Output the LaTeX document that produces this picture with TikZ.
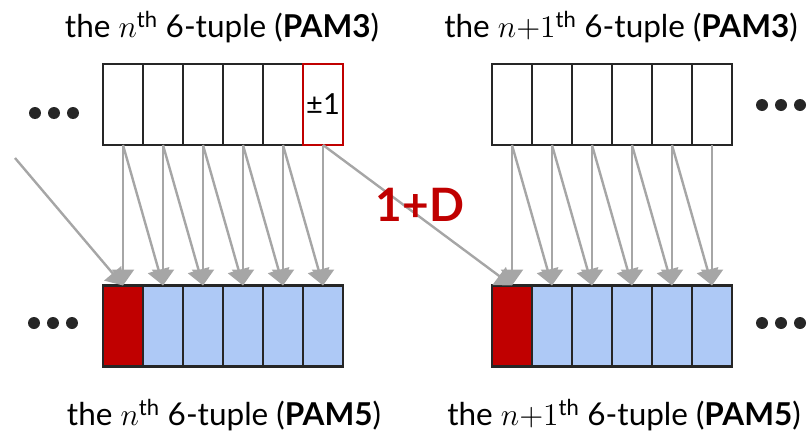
\documentclass[tikz,border=0pt]{standalone}
\usepackage{fontspec}
\setmainfont{Lato}
\DeclareFontShape{OML}{cmm}{m}{it}{<-> cmmi12}{}
\DeclareFontShape{OT1}{cmr}{m}{n}{<-> cmr12}{}
\usepackage{tikz}
\usetikzlibrary{
    arrows.meta,
    positioning
}
\definecolor{pamred}{RGB}{192,0,0}
\definecolor{pamblue}{RGB}{174,201,246}
\definecolor{linkgray}{RGB}{166,166,166}

\begin{document}
\begin{tikzpicture}[
    x=1pt, y=-1pt,
    cell/.style={
        rectangle,
        draw=black!85,
        line width=2.4pt,
        minimum width=40pt,
        minimum height=81pt,
        inner sep=0pt,
        outer sep=0pt,
        font=\fontsize{29}{34}\selectfont
    },
    pamcell/.style={cell, fill=pamblue},
    hotcell/.style={cell, fill=pamred},
    caption/.style={anchor=base, font=\fontsize{31.5}{36}\selectfont},
    link/.style={draw=linkgray, line width=2.4pt, -{Triangle[width=22pt,length=16pt]}}
]
\useasboundingbox (0,0) rectangle (807,434);

% Titles
\node[caption] (ta) at (222,37) {the $n$\textsuperscript{th} 6-tuple (\textbf{PAM3})};
\node[caption] (tb) at (621,37) {the $n{+}1$\textsuperscript{th} 6-tuple (\textbf{PAM3})};
\node[caption] (tc) at (224,425) {the $n$\textsuperscript{th} 6-tuple (\textbf{PAM5})};
\node[caption] (td) at (624,425) {the $n{+}1$\textsuperscript{th} 6-tuple (\textbf{PAM5})};

% n-th tuple, PAM3
\node[cell] (a1) at (123,104.5) {};
\node[cell, right=0pt of a1] (a2) {};
\node[cell, right=0pt of a2] (a3) {};
\node[cell, right=0pt of a3] (a4) {};
\node[cell, right=0pt of a4] (a5) {};
\node[cell, draw=pamred, right=0pt of a5] (a6) {±1};

% n+1-th tuple, PAM3
\node[cell] (b1) at (512,104.5) {};
\node[cell, right=0pt of b1] (b2) {};
\node[cell, right=0pt of b2] (b3) {};
\node[cell, right=0pt of b3] (b4) {};
\node[cell, right=0pt of b4] (b5) {};
\node[cell, right=0pt of b5] (b6) {};

% n-th tuple, PAM5
\node[hotcell] (c1) at (123,326) {};
\node[pamcell, right=0pt of c1] (c2) {};
\node[pamcell, right=0pt of c2] (c3) {};
\node[pamcell, right=0pt of c3] (c4) {};
\node[pamcell, right=0pt of c4] (c5) {};
\node[pamcell, right=0pt of c5] (c6) {};

% n+1-th tuple, PAM5
\node[hotcell] (d1) at (512,326) {};
\node[pamcell, right=0pt of d1] (d2) {};
\node[pamcell, right=0pt of d2] (d3) {};
\node[pamcell, right=0pt of d3] (d4) {};
\node[pamcell, right=0pt of d4] (d5) {};
\node[pamcell, right=0pt of d5] (d6) {};

% Dots
\fill[black!85] (35,113) circle (6pt) (54,113) circle (6pt) (73,113) circle (6pt);
\fill[black!85] (762,105) circle (6pt) (781,105) circle (6pt) (800,105) circle (6pt);
\fill[black!85] (34,323) circle (6pt) (53,323) circle (6pt) (72,323) circle (6pt);
\fill[black!85] (762,323) circle (6pt) (781,323) circle (6pt) (800,323) circle (6pt);

% Arrows
\coordinate (in) at (15,158);
\draw[link] (in) -- (c1.north);
\draw[link] (a1.south) -- (c1.north);
\draw[link] (a1.south) -- (c2.north);
\draw[link] (a2.south) -- (c2.north);
\draw[link] (a2.south) -- (c3.north);
\draw[link] (a3.south) -- (c3.north);
\draw[link] (a3.south) -- (c4.north);
\draw[link] (a4.south) -- (c4.north);
\draw[link] (a4.south) -- (c5.north);
\draw[link] (a5.south) -- (c5.north);
\draw[link] (a5.south) -- (c6.north);
\draw[link] (a6.south) -- (c6.north);
\draw[link] (a6.south) -- (d1.north);
\draw[link] (b1.south) -- (d1.north);
\draw[link] (b1.south) -- (d2.north);
\draw[link] (b2.south) -- (d2.north);
\draw[link] (b2.south) -- (d3.north);
\draw[link] (b3.south) -- (d3.north);
\draw[link] (b3.south) -- (d4.north);
\draw[link] (b4.south) -- (d4.north);
\draw[link] (b4.south) -- (d5.north);
\draw[link] (b5.south) -- (d5.north);
\draw[link] (b5.south) -- (d6.north);
\draw[link] (b6.south) -- (d6.north);

% Delay label
\node[font=\bfseries\fontsize{46}{50}\selectfont, text=pamred] (delay) at (420,205) {1+D};

\end{tikzpicture}
\end{document}
